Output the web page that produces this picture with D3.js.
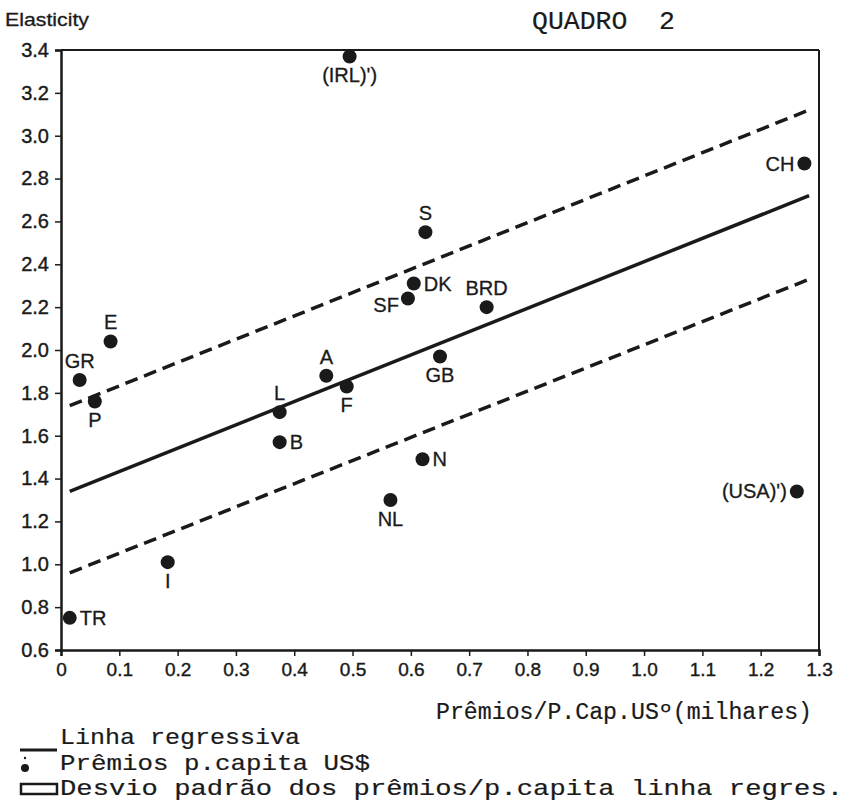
<!DOCTYPE html>
<html>
<head>
<meta charset="utf-8">
<script src="https://cdn.jsdelivr.net/npm/d3@7"></script>
<style>
  html, body { margin: 0; padding: 0; background: #fff; }
  svg { display: block; }
</style>
</head>
<body>
<svg id="chart" width="846" height="803"></svg>
<script>
// ---------- DATA ----------
const countries = ["IRL","CH","S","DK","SF","BRD","E","GR","P","A","F","GB","L","B","N","NL","USA","I","TR"];
const pointLabels = ["(IRL)')","CH","S","DK","SF","BRD","E","GR","P","A","F","GB","L","B","N","NL","(USA)')","I","TR"];
const premios = [0.495, 1.275, 0.625, 0.605, 0.595, 0.730, 0.085, 0.032, 0.058, 0.455, 0.490, 0.650, 0.375, 0.375, 0.620, 0.565, 1.262, 0.183, 0.015];
const elasticity = [3.37, 2.87, 2.55, 2.31, 2.24, 2.20, 2.04, 1.86, 1.76, 1.88, 1.83, 1.97, 1.71, 1.57, 1.49, 1.30, 1.34, 1.01, 0.75];

const lineX = [0.015, 1.283];
const regressionY = [1.34, 2.72];
const upperY = [1.74, 3.12];
const lowerY = [0.96, 2.33];

const xTicks = [0, 0.1, 0.2, 0.3, 0.4, 0.5, 0.6, 0.7, 0.8, 0.9, 1.0, 1.1, 1.2, 1.3];
const yTicks = [0.6, 0.8, 1.0, 1.2, 1.4, 1.6, 1.8, 2.0, 2.2, 2.4, 2.6, 2.8, 3.0, 3.2, 3.4];

const yAxisTitle = "Elasticity";
const chartTitle = "QUADRO 2";
const xAxisTitle = "Prêmios/P.Cap.USº(milhares)";
const legendTexts = ["Linha regressiva", "Prêmios p.capita US$", "Desvio padrão dos prêmios/p.capita linha regres."];

// label placement (style only)
const labelSide = {IRL:"below",CH:"left",S:"above",DK:"right",SF:"leftlow",BRD:"above",E:"above",GR:"above",P:"below",A:"above",F:"below",GB:"below",L:"above",B:"right",N:"right",NL:"below",USA:"left",I:"below",TR:"right"};

// ---------- DRAW ----------
const svg = d3.select("#chart");
const ink = "#1a1a1a";
const sans = "'Liberation Sans', Arial, sans-serif";
const mono = "'Liberation Mono', 'Courier New', monospace";

const x = d3.scaleLinear().domain([0, 1.3]).range([61, 819]);
const y = d3.scaleLinear().domain([0.6, 3.4]).range([650, 50]);

// frame (top and right)
svg.append("line").attr("x1", x(0)).attr("x2", x(1.3)).attr("y1", y(3.4)).attr("y2", y(3.4))
  .attr("stroke", ink).attr("stroke-width", 2);
svg.append("line").attr("x1", x(1.3)).attr("x2", x(1.3)).attr("y1", y(3.4)).attr("y2", y(0.6))
  .attr("stroke", ink).attr("stroke-width", 2);

// axes
const yAxis = d3.axisLeft(y).tickValues(yTicks).tickSize(6).tickPadding(6).tickFormat(d3.format(".1f"));
const gy = svg.append("g").attr("transform", `translate(${x(0)},0)`).call(yAxis);
gy.select(".domain").attr("stroke", ink).attr("stroke-width", 2.5);
gy.selectAll(".tick line").attr("stroke", ink).attr("stroke-width", 1.5);
gy.selectAll(".tick text").attr("font-family", sans).attr("font-size", 20).attr("fill", ink)
  .attr("stroke", ink).attr("stroke-width", 0.4);

const xAxis = d3.axisBottom(x).tickValues(xTicks).tickSize(6).tickPadding(7)
  .tickFormat(d => d === 0 ? "0" : d3.format(".1f")(d));
const gx = svg.append("g").attr("transform", `translate(0,${y(0.6)})`).call(xAxis);
gx.select(".domain").attr("stroke", ink).attr("stroke-width", 2.5);
gx.selectAll(".tick line").attr("stroke", ink).attr("stroke-width", 1.5);
gx.selectAll(".tick text").attr("font-family", sans).attr("font-size", 19).attr("fill", ink)
  .attr("stroke", ink).attr("stroke-width", 0.4);

// regression lines
const line = d3.line().x(d => x(d[0])).y(d => y(d[1]));
svg.append("path").datum(lineX.map((v, i) => [v, regressionY[i]])).attr("d", line)
  .attr("fill", "none").attr("stroke", ink).attr("stroke-width", 3.5);
[upperY, lowerY].forEach(arr => {
  svg.append("path").datum(lineX.map((v, i) => [v, arr[i]])).attr("d", line)
    .attr("fill", "none").attr("stroke", ink).attr("stroke-width", 3.5)
    .attr("stroke-dasharray", "13,7");
});

// points
const pts = countries.map((c, i) => ({c, label: pointLabels[i], x: premios[i], y: elasticity[i]}));
svg.append("g").selectAll("circle").data(pts).join("circle")
  .attr("cx", d => x(d.x)).attr("cy", d => y(d.y)).attr("r", 7).attr("fill", ink);

const place = {
  below:   {dx: 0,   dy: 26, a: "middle"},
  above:   {dx: 0,   dy: -12, a: "middle"},
  right:   {dx: 10,  dy: 7,  a: "start"},
  left:    {dx: -10, dy: 7,  a: "end"},
  leftlow: {dx: -9,  dy: 13, a: "end"}
};
svg.append("g").selectAll("text").data(pts).join("text")
  .attr("x", d => x(d.x) + place[labelSide[d.c]].dx)
  .attr("y", d => y(d.y) + place[labelSide[d.c]].dy)
  .attr("text-anchor", d => place[labelSide[d.c]].a)
  .attr("font-family", sans).attr("font-size", 20).attr("fill", ink)
  .attr("stroke", ink).attr("stroke-width", 0.3)
  .text(d => d.label);

// titles
svg.append("text").attr("x", 5).attr("y", 26).attr("font-family", sans).attr("font-size", 19)
  .attr("textLength", 84).attr("lengthAdjust", "spacingAndGlyphs").attr("fill", ink)
  .attr("stroke", ink).attr("stroke-width", 0.3)
  .text(yAxisTitle);
svg.append("text").attr("x", 532).attr("y", 29).attr("font-family", mono).attr("font-size", 26)
  .attr("textLength", 143).attr("lengthAdjust", "spacingAndGlyphs").attr("fill", ink)
  .attr("stroke", ink).attr("stroke-width", 0.2)
  .attr("xml:space", "preserve").text(chartTitle.replace(" ", "  "));
svg.append("text").attr("x", 436).attr("y", 719).attr("font-family", mono).attr("font-size", 23)
  .attr("textLength", 376).attr("lengthAdjust", "spacingAndGlyphs").attr("fill", ink)
  .attr("stroke", ink).attr("stroke-width", 0.2)
  .text(xAxisTitle);

// legend
const legY = [744, 770, 795];
const legLen = [240, 310, 783];
legendTexts.forEach((t, i) => {
  svg.append("text").attr("x", 60).attr("y", legY[i]).attr("font-family", mono).attr("font-size", 22)
    .attr("textLength", legLen[i]).attr("lengthAdjust", "spacingAndGlyphs").attr("fill", ink)
    .attr("stroke", ink).attr("stroke-width", 0.2)
    .text(t);
});
svg.append("line").attr("x1", 20).attr("x2", 57).attr("y1", 750).attr("y2", 750)
  .attr("stroke", ink).attr("stroke-width", 3);
svg.append("circle").attr("cx", 25).attr("cy", 768).attr("r", 4).attr("fill", ink);
svg.append("circle").attr("cx", 25).attr("cy", 758).attr("r", 1.2).attr("fill", ink);
svg.append("rect").attr("x", 21).attr("y", 784).attr("width", 36).attr("height", 10)
  .attr("fill", "none").attr("stroke", ink).attr("stroke-width", 2.5);
</script>
</body>
</html>
